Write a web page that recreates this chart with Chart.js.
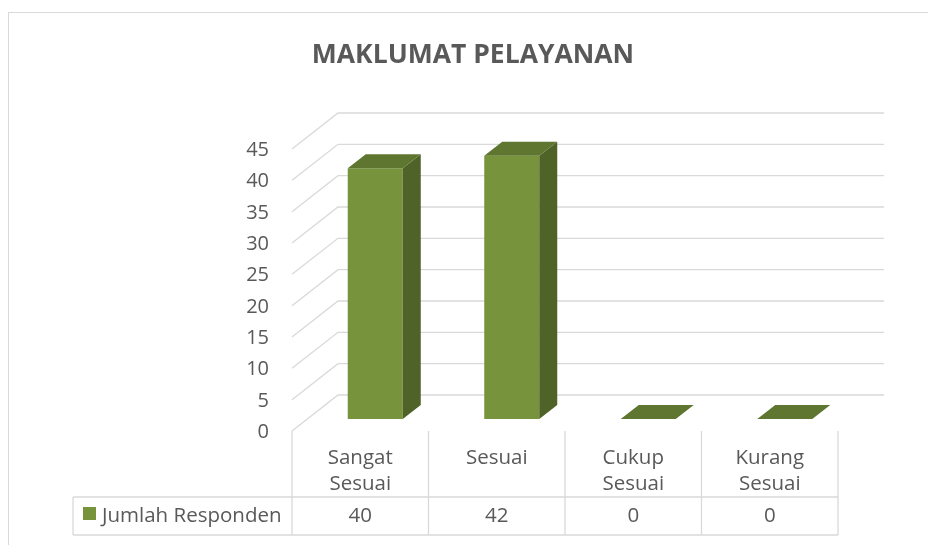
<!DOCTYPE html>
<html>
<head>
<meta charset="utf-8">
<script src="https://cdn.jsdelivr.net/npm/chart.js@4/dist/chart.umd.min.js"></script>
<style>
  html, body { margin: 0; padding: 0; background: #fff; }
  canvas { display: block; }
</style>
</head>
<body>
<canvas id="chart" width="928" height="545"></canvas>
<script>
const chartTitle = 'MAKLUMAT PELAYANAN';
const seriesName = 'Jumlah Responden';
const categories = [['Sangat', 'Sesuai'], ['Sesuai'], ['Cukup', 'Sesuai'], ['Kurang', 'Sesuai']];
const responden = [40, 42, 0, 0];
const yTicks = [0, 5, 10, 15, 20, 25, 30, 35, 40, 45];

const frontColor = '#77933c';
const sideColor = '#4f6228';
const topColor = '#5e7630';
const gridColor = '#d9d9d9';
const textColor = '#595959';
const fontName = '"Open Sans", Lato, sans-serif';

// offsets (px) from the plane the bars stand on
const front = { dx: -15, dy: 12 };
const back = { dx: 31, dy: -24 };
const depth = { dx: 18, dy: -14 };

const tableRowTop = 497;
const tableRowBottom = 535;
const tableLeft = 73;

const line = (ctx, x1, y1, x2, y2) => {
  ctx.beginPath();
  ctx.moveTo(x1, y1);
  ctx.lineTo(x2, y2);
  ctx.stroke();
};

const box3d = {
  id: 'box3d',
  beforeDatasetsDraw(chart) {
    const { ctx, chartArea, scales } = chart;
    const yScale = scales.y;
    const xScale = scales.x;
    ctx.save();

    // chart frame
    ctx.strokeStyle = gridColor;
    ctx.lineWidth = 1;
    ctx.strokeRect(8.5, 12.5, 1000, 600);

    // title
    ctx.fillStyle = textColor;
    ctx.font = `bold 26.5px ${fontName}`;
    ctx.textAlign = 'center';
    ctx.textBaseline = 'alphabetic';
    ctx.fillText(chartTitle, 473, 63);

    // side wall + back wall gridlines, value labels
    ctx.lineWidth = 1.3;
    ctx.font = `20px ${fontName}`;
    ctx.textAlign = 'right';
    yTicks.forEach((v) => {
      const py = yScale.getPixelForValue(v);
      ctx.beginPath();
      ctx.moveTo(chartArea.left + front.dx, py + front.dy);
      ctx.lineTo(chartArea.left + back.dx, py + back.dy);
      ctx.lineTo(chartArea.right + back.dx, py + back.dy);
      ctx.stroke();
      ctx.fillText(String(v), chartArea.left + front.dx - 23, py + front.dy + 7);
    });

    // data table
    const floorY = yScale.getPixelForValue(0) + front.dy;
    const cw = chartArea.width / categories.length;
    const left = chartArea.left + front.dx;
    const right = chartArea.right + front.dx;
    for (let k = 0; k <= categories.length; k += 1) {
      line(ctx, left + k * cw, floorY, left + k * cw, tableRowBottom);
    }
    line(ctx, tableLeft, tableRowTop, right, tableRowTop);
    line(ctx, tableLeft, tableRowBottom, right, tableRowBottom);
    line(ctx, tableLeft, tableRowTop, tableLeft, tableRowBottom);

    ctx.font = `20.5px ${fontName}`;
    ctx.textAlign = 'center';
    categories.forEach((lines, i) => {
      const cx = xScale.getPixelForValue(i) + front.dx;
      lines.forEach((txt, j) => {
        ctx.fillText(txt, cx, 464 + j * 26);
      });
      ctx.fillText(String(responden[i]), cx, 521.5);
    });

    // legend key in the table
    ctx.fillStyle = frontColor;
    ctx.fillRect(83, 507, 13, 13);
    ctx.fillStyle = textColor;
    ctx.textAlign = 'left';
    ctx.fillText(seriesName, 102, 521.5);
    ctx.restore();
  },
  afterDatasetsDraw(chart) {
    const { ctx } = chart;
    const meta = chart.getDatasetMeta(0);
    ctx.save();
    meta.data.forEach((bar) => {
      const { x, y, base, width } = bar.getProps(['x', 'y', 'base', 'width'], true);
      const l = x - width / 2;
      const r = x + width / 2;
      // side face
      ctx.fillStyle = sideColor;
      ctx.beginPath();
      ctx.moveTo(r, y);
      ctx.lineTo(r + depth.dx, y + depth.dy);
      ctx.lineTo(r + depth.dx, base + depth.dy);
      ctx.lineTo(r, base);
      ctx.closePath();
      ctx.fill();
      // top face
      ctx.fillStyle = topColor;
      ctx.beginPath();
      ctx.moveTo(l, y);
      ctx.lineTo(r, y);
      ctx.lineTo(r + depth.dx, y + depth.dy);
      ctx.lineTo(l + depth.dx, y + depth.dy);
      ctx.closePath();
      ctx.fill();
    });
    ctx.restore();
  },
};

new Chart(document.getElementById('chart'), {
  type: 'bar',
  data: {
    labels: categories,
    datasets: [{
      label: seriesName,
      data: responden,
      backgroundColor: frontColor,
      barPercentage: 0.403,
      categoryPercentage: 1,
    }],
  },
  options: {
    responsive: false,
    animation: false,
    layout: { padding: { left: 307, right: 75, top: 137, bottom: 126 } },
    plugins: {
      legend: { display: false },
      title: { display: false },
      tooltip: { enabled: false },
    },
    scales: {
      x: { display: false },
      y: { display: false, min: 0, max: 45, ticks: { stepSize: 5 } },
    },
  },
  plugins: [box3d],
});
</script>
</body>
</html>
